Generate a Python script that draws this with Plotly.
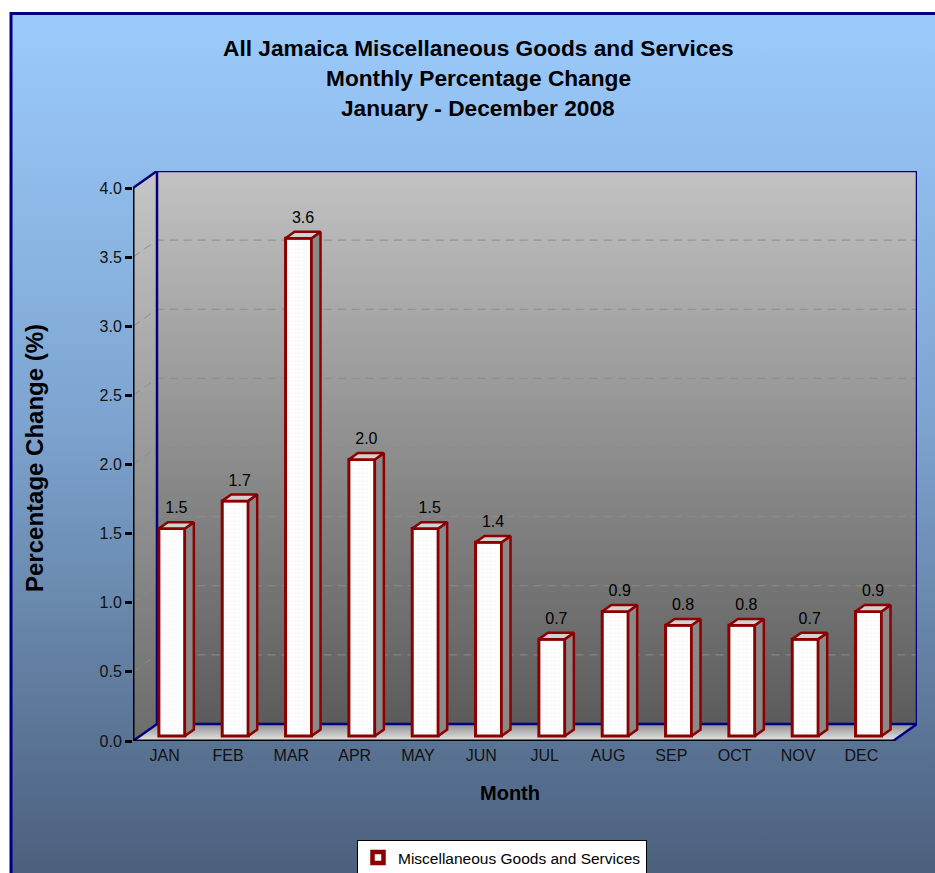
import base64
import plotly.graph_objects as go

# ---- data -------------------------------------------------------------
months = ["JAN", "FEB", "MAR", "APR", "MAY", "JUN",
          "JUL", "AUG", "SEP", "OCT", "NOV", "DEC"]
pct_change = [1.5, 1.7, 3.6, 2.0, 1.5, 1.4, 0.7, 0.9, 0.8, 0.8, 0.7, 0.9]
y_ticks = [0.0, 0.5, 1.0, 1.5, 2.0, 2.5, 3.0, 3.5, 4.0]
series_name = "Miscellaneous Goods and Services"
title_lines = ["All Jamaica Miscellaneous Goods and Services",
               "Monthly Percentage Change",
               "January - December 2008"]
x_title = "Month"
y_title = "Percentage Change (%)"

# ---- page / box geometry (pixels) -------------------------------------
W, H = 935, 873
FX0, FX1 = 133, 893          # front plane, left/right
FY0, FY1 = 741, 188          # front plane, value 0 / top value
DEPTH_X, DEPTH_Y = 24, 17    # oblique depth of the 3-D box

n = len(months)
cat_px = (FX1 - FX0) / n
unit_px = (FY0 - FY1) / y_ticks[-1]
DX = DEPTH_X / cat_px        # depth in category units
DY = DEPTH_Y / unit_px       # depth in value units
X0, X1 = -0.5, n - 0.5
Y0, Y1 = y_ticks[0], y_ticks[-1]

x_dom = [FX0 / W, (FX1 + DEPTH_X) / W]
y_dom = [1 - FY0 / H, 1 - (FY1 - DEPTH_Y) / H]
x_rng = [X0, X1 + DX]
y_rng = [Y0, Y1 + DY]

FONT = "Liberation Sans, Arial, sans-serif"
DARK_RED = "#8B0000"
NAVY = "#000080"

fig = go.Figure()


def poly(points_list):
    xs, ys = [], []
    for pts in points_list:
        for px, py in pts:
            xs.append(px)
            ys.append(py)
        xs.append(pts[0][0])
        ys.append(pts[0][1])
        xs.append(None)
        ys.append(None)
    return xs, ys


# ---- walls and floor (base subplot) -------------------------------------
left_wall = [(X0, Y0), (X0 + DX, Y0 + DY), (X0 + DX, Y1 + DY), (X0, Y1)]
back_wall = [(X0 + DX, Y0 + DY), (X1 + DX, Y0 + DY), (X1 + DX, Y1 + DY), (X0 + DX, Y1 + DY)]
floor = [(X0, Y0), (X1, Y0), (X1 + DX, Y0 + DY), (X0 + DX, Y0 + DY)]

for pts, scale in [
    (back_wall, [[0, "#5b5b5b"], [1, "#c2c2c2"]]),
    (left_wall, [[0, "#6c6c6c"], [1, "#c6c6c6"]]),
    (floor, [[0, "#e8e8e8"], [1, "#8e8e8e"]]),
]:
    xs, ys = poly([pts])
    fig.add_trace(go.Scatter(
        x=xs, y=ys, mode="lines", fill="toself", line=dict(width=0),
        fillgradient=dict(type="vertical", colorscale=scale),
        hoverinfo="skip", showlegend=False))

# dashed gridlines on the back and left walls
gx, gy = [], []
for v in y_ticks[1:-1]:
    gx += [X0, X0 + DX, X1 + DX, None]
    gy += [v, v + DY, v + DY, None]
fig.add_trace(go.Scatter(
    x=gx, y=gy, mode="lines",
    line=dict(color="#8c8c8c", width=1, dash="8px,6px"),
    hoverinfo="skip", showlegend=False))

# navy box edges
ex, ey = poly([back_wall])
ex += [X0, X0 + DX, None, X0, X0 + DX, None, X1, X1 + DX, None]
ey += [Y1, Y1 + DY, None, Y0, Y0 + DY, None, Y0, Y0 + DY, None]
fig.add_trace(go.Scatter(
    x=ex, y=ey, mode="lines", line=dict(color=NAVY, width=2.5),
    cliponaxis=False, hoverinfo="skip", showlegend=False))

# ---- bars (overlay subplot) --------------------------------------------
BAR_W = 0.41     # front face width, category units
F0 = 0.3         # depth position of the bar front face
BD = 0.375       # bar depth as a share of the box depth
bar_x = [i + F0 * DX for i in range(n)]
bar_base = F0 * DY

fig.add_trace(go.Bar(
    x=bar_x, y=pct_change, base=bar_base, width=BAR_W,
    xaxis="x2", yaxis="y2", name=series_name, showlegend=False,
    marker=dict(color="white", line=dict(color=DARK_RED, width=3),
                pattern=dict(shape="+", fgcolor="#d6d6d6", bgcolor="white",
                             size=4, solidity=0.15)),
    hoverinfo="skip"))

sides, tops = [], []
for xc, v in zip(bar_x, pct_change):
    xl, xr = xc - BAR_W / 2, xc + BAR_W / 2
    top = bar_base + v
    ox, oy = BD * DX, BD * DY
    sides.append([(xr, bar_base), (xr + ox, bar_base + oy), (xr + ox, top + oy), (xr, top)])
    tops.append([(xl, top), (xr, top), (xr + ox, top + oy), (xl + ox, top + oy)])

sx, sy = poly(sides)
fig.add_trace(go.Scatter(
    x=sx, y=sy, mode="lines", fill="toself", fillcolor="#8a8a8a",
    line=dict(color=DARK_RED, width=2.5), xaxis="x2", yaxis="y2",
    hoverinfo="skip", showlegend=False))
tx, ty = poly(tops)
fig.add_trace(go.Scatter(
    x=tx, y=ty, mode="lines", fill="toself", fillcolor="#d2d2d2",
    line=dict(color=DARK_RED, width=2.5), xaxis="x2", yaxis="y2",
    hoverinfo="skip", showlegend=False))

# value labels above each bar
LABEL_LIFT = 5 / unit_px
fig.add_trace(go.Scatter(
    x=[xc + BD * DX / 2 for xc in bar_x],
    y=[bar_base + v + BD * DY + LABEL_LIFT for v in pct_change],
    mode="text", text=[f"{v:.1f}" for v in pct_change],
    textposition="top center", textfont=dict(family=FONT, size=16, color="black"),
    xaxis="x2", yaxis="y2", cliponaxis=False, hoverinfo="skip", showlegend=False))

# legend key: dark red square with a white centre
fig.add_trace(go.Scatter(
    x=[None], y=[None], mode="markers", name=series_name,
    xaxis="x2", yaxis="y2",
    marker=dict(symbol="square", size=11, color="white",
                line=dict(color=DARK_RED, width=4.5)),
    hoverinfo="skip", showlegend=True))

# ---- page background ---------------------------------------------------
svg = ('<svg xmlns="http://www.w3.org/2000/svg" width="100" height="100" '
       'viewBox="0 0 100 100" preserveAspectRatio="none"><defs>'
       '<linearGradient id="g" x1="0" y1="0" x2="0" y2="1">'
       '<stop offset="0" stop-color="#9BCBFC"/>'
       '<stop offset="0.45" stop-color="#7FA6D2"/>'
       '<stop offset="1" stop-color="#4A5E7A"/>'
       '</linearGradient></defs>'
       '<rect width="100" height="100" fill="url(#g)"/></svg>')
bg_src = "data:image/svg+xml;base64," + base64.b64encode(svg.encode()).decode()

fig.add_layout_image(dict(
    source=bg_src, xref="paper", yref="paper",
    x=10 / W, y=1 - 12 / H, sizex=1.0, sizey=1.0,
    xanchor="left", yanchor="top", sizing="stretch", layer="below"))

shapes = [
    # outer frame
    dict(type="rect", xref="paper", yref="paper",
         x0=11 / W, y0=1 - 13.5 / H, x1=1.2, y1=-0.2,
         line=dict(color=NAVY, width=3)),
    # black value axis and category axis
    dict(type="line", xref="x", yref="y", x0=X0, y0=Y0, x1=X0, y1=Y1,
         line=dict(color="black", width=3), layer="above"),
    dict(type="line", xref="x", yref="y", x0=X0, y0=Y0, x1=X1, y1=Y0,
         line=dict(color="black", width=3), layer="above"),
]

annotations = []
for k, line in enumerate(title_lines):
    annotations.append(dict(
        text=f"<b>{line}</b>", xref="paper", yref="paper",
        x=478 / W, y=1 - (48 + 30 * k) / H, xanchor="center", yanchor="middle",
        showarrow=False, font=dict(family=FONT, size=22.7, color="black")))
annotations.append(dict(
    text=f"<b>{y_title}</b>", xref="paper", yref="paper",
    x=34 / W, y=1 - 458 / H, textangle=-90, xanchor="center", yanchor="middle",
    showarrow=False, font=dict(family=FONT, size=24, color="black")))
annotations.append(dict(
    text=f"<b>{x_title}</b>", xref="paper", yref="paper",
    x=510 / W, y=1 - 793 / H, xanchor="center", yanchor="middle",
    showarrow=False, font=dict(family=FONT, size=20, color="black")))

fig.update_layout(
    width=W, height=H,
    margin=dict(l=0, r=0, t=0, b=0, autoexpand=False),
    paper_bgcolor="white", plot_bgcolor="rgba(0,0,0,0)",
    barmode="overlay",
    xaxis=dict(domain=x_dom, range=x_rng, tickmode="array",
               tickvals=list(range(n)), ticktext=months, ticks="",
               ticklabelstandoff=3,
               showgrid=False, zeroline=False, showline=False,
               tickfont=dict(family=FONT, size=16, color="#111111")),
    yaxis=dict(domain=y_dom, range=y_rng, tickmode="array",
               tickvals=y_ticks, ticktext=[f"{t:.1f}" for t in y_ticks],
               ticks="outside", ticklen=7, tickwidth=3, tickcolor="black",
               showgrid=False, zeroline=False, showline=False,
               tickfont=dict(family=FONT, size=16, color="#111111")),
    xaxis2=dict(overlaying="x", range=x_rng, visible=False),
    yaxis2=dict(overlaying="y", range=y_rng, visible=False),
    shapes=shapes, annotations=annotations,
    showlegend=True,
    legend=dict(x=357 / W, y=1 - 840 / H, xanchor="left", yanchor="top",
                bgcolor="white", bordercolor="black", borderwidth=1,
                itemwidth=30,
                font=dict(family=FONT, size=15.5, color="black")),
)

fig.write_html("out.html")
